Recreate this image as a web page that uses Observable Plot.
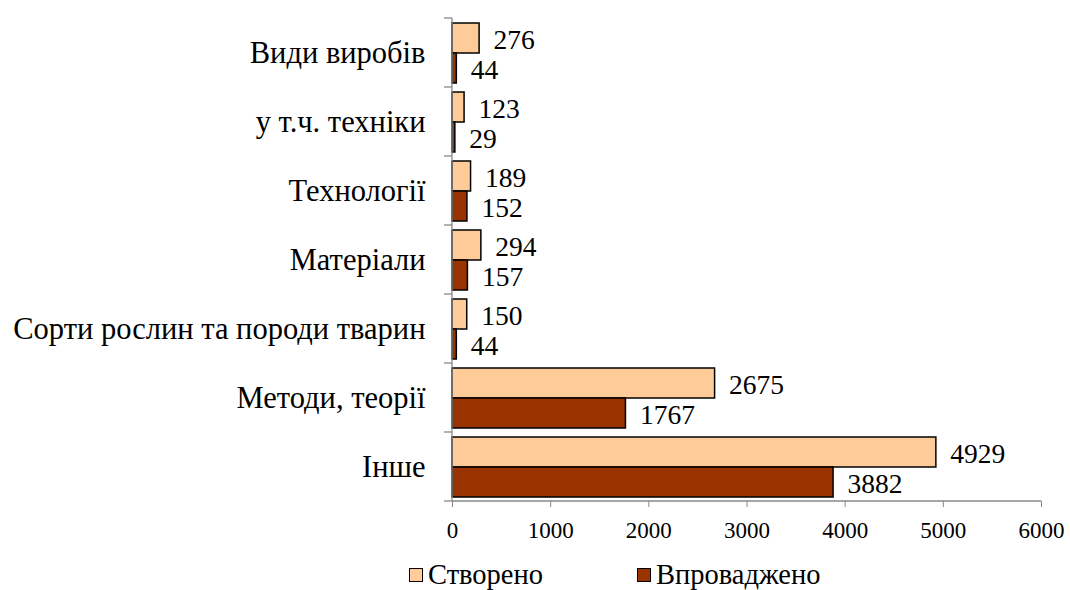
<!DOCTYPE html>
<html><head><meta charset="utf-8">
<script src="https://cdn.jsdelivr.net/npm/d3@7"></script>
<script src="https://cdn.jsdelivr.net/npm/@observablehq/plot@0.6"></script>
<style>
body{margin:0;background:#fff;font-family:'Liberation Serif','Times New Roman',serif;color:#000}
#legend{position:relative;width:1070px;height:38px}
.item{position:absolute;top:8px;display:flex;align-items:center;font-size:28.5px;line-height:30px}
.sw{width:12px;height:12px;border:1.5px solid #000;margin-right:5px}
</style>
</head><body><div id="chart"></div><div id="legend"></div><script>
const categories = ["Види виробів","у т.ч. техніки","Технології","Матеріали","Сорти рослин та породи тварин","Методи, теорії","Інше"];
const series = ["Створено","Впроваджено"];
const created = [276,123,189,294,150,2675,4929];
const implemented = [44,29,152,157,44,1767,3882];
const xTicks = [0,1000,2000,3000,4000,5000,6000];
const colors = ["#FFCC99","#993300"];

const data = categories.flatMap((c,i)=>[
  {category:c, series:series[0], value:created[i]},
  {category:c, series:series[1], value:implemented[i]}
]);

const FONT = "'Liberation Serif', 'Times New Roman', serif";
const plot = Plot.plot({
  width:1070, height:552,
  marginTop:15, marginBottom:48, marginLeft:452, marginRight:29,
  style:{fontFamily:FONT, background:"#fff", color:"#000", overflow:"visible"},
  x:{domain:[0,6000], axis:null},
  y:{domain:series, paddingInner:0, paddingOuter:0.15, axis:null},
  fy:{domain:categories, padding:0, axis:null},
  color:{domain:series, range:colors},
  marks:[
    Plot.barX(data,{fy:"category", y:"series", x:"value", fill:"series", stroke:"#000", strokeWidth:1.5}),
    Plot.text(data,{fy:"category", y:"series", x:"value", text:d=>String(d.value), textAnchor:"start", dx:14, dy:2, fontSize:27.5, fontFamily:FONT, fill:"#000"}),
    Plot.axisFy({anchor:"left", tickSize:0, tickPadding:27, fontSize:30.5, fontFamily:FONT, label:null, fill:"#000"}),
    Plot.axisX({ticks:xTicks, tickSize:6, tickPadding:14.5, fontSize:23, fontFamily:FONT, stroke:"#888", fill:"#000", label:null, tickFormat:d=>String(d)})
  ]
});
document.getElementById("chart").appendChild(plot);

// category-boundary ticks and axis lines, positioned from Plot's own scales
const fy = plot.scale("fy"), xs = plot.scale("x");
const x0 = xs.apply(0), x1 = xs.apply(6000);
const bounds = categories.map(c=>fy.apply(c));
bounds.push(fy.apply(categories[categories.length-1]) + fy.bandwidth);
const g = d3.select(plot).append("g").attr("stroke","#888").attr("stroke-width",1.3);
g.append("line").attr("x1",x0).attr("x2",x0).attr("y1",bounds[0]).attr("y2",bounds[bounds.length-1]);
g.append("line").attr("x1",x0).attr("x2",x1).attr("y1",bounds[bounds.length-1]).attr("y2",bounds[bounds.length-1]);
g.selectAll("line.b").data(bounds).join("line").attr("class","b")
  .attr("x1",x0-8).attr("x2",x0).attr("y1",d=>d).attr("y2",d=>d);

// legend
const lg = document.getElementById("legend");
const lx = [409, 637];
series.forEach((s,i)=>{
  const it = document.createElement("div");
  it.className="item"; it.style.left = lx[i]+"px";
  it.innerHTML = `<span class="sw" style="background:${colors[i]}"></span><span>${s}</span>`;
  lg.appendChild(it);
});
</script></body></html>
